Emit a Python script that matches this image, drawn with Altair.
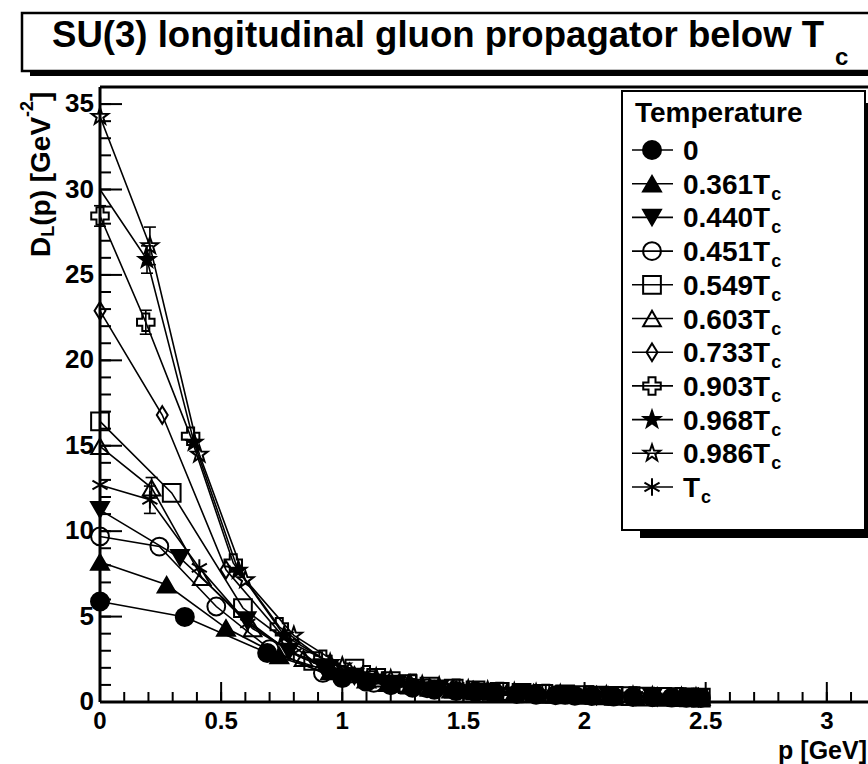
import altair as alt
import pandas as pd

FONT = "Liberation Sans"

# ---------------- data ----------------
series_names = ["0", "0.361Tc", "0.440Tc", "0.451Tc", "0.549Tc", "0.603Tc",
                "0.733Tc", "0.903Tc", "0.968Tc", "0.986Tc", "Tc"]
legend_main = ["0", "0.361T", "0.440T", "0.451T", "0.549T", "0.603T",
               "0.733T", "0.903T", "0.968T", "0.986T", "T"]
legend_sub = ["", "c", "c", "c", "c", "c", "c", "c", "c", "c", "c"]

p_T0 = [0.0, 0.35, 0.69, 1.00, 1.10, 1.20, 1.29, 1.38, 1.47, 1.55, 1.63, 1.72, 1.80,
        1.88, 1.96, 2.03, 2.12, 2.20, 2.28, 2.36, 2.42, 2.48]
D_T0 = [5.88, 4.98, 2.87, 1.40, 1.18, 0.98, 0.84, 0.72, 0.64, 0.58, 0.52, 0.47, 0.43,
        0.40, 0.37, 0.35, 0.32, 0.30, 0.28, 0.26, 0.25, 0.24]

p_T361 = [0.0, 0.275, 0.52, 0.74, 0.95, 1.10, 1.19, 1.28, 1.36, 1.45, 1.54, 1.62, 1.71,
          1.80, 1.88, 1.95, 2.04, 2.12, 2.21, 2.30, 2.38, 2.45]
D_T361 = [8.20, 6.86, 4.33, 2.72, 1.78, 1.30, 1.10, 0.95, 0.83, 0.72, 0.64, 0.58, 0.52,
          0.47, 0.43, 0.40, 0.37, 0.34, 0.31, 0.29, 0.27, 0.25]

p_T440 = [0.0, 0.33, 0.605, 0.78, 0.92, 1.05, 1.22, 1.40, 1.58, 1.76, 1.93, 2.10, 2.28, 2.47]
D_T440 = [11.25, 8.44, 4.80, 2.95, 2.05, 1.50, 1.08, 0.80, 0.62, 0.50, 0.42, 0.36, 0.31, 0.26]

p_T451 = [0.0, 0.245, 0.48, 0.70, 0.92, 1.13, 1.35, 1.55, 1.74, 1.92, 2.10, 2.28, 2.45]
D_T451 = [9.69, 9.10, 5.59, 3.10, 1.70, 1.12, 0.80, 0.62, 0.50, 0.42, 0.35, 0.30, 0.26]

p_T549 = [0.0, 0.296, 0.59, 0.88, 1.05, 1.14, 1.20, 1.27, 1.36, 1.46, 1.55, 1.65, 1.74,
          1.83, 1.92, 2.00, 2.06, 2.12, 2.19, 2.25, 2.32, 2.38, 2.43, 2.48]
D_T549 = [16.43, 12.24, 5.50, 2.40, 1.95, 1.42, 1.22, 1.05, 0.90, 0.78, 0.68, 0.60, 0.54,
          0.48, 0.44, 0.41, 0.38, 0.36, 0.34, 0.32, 0.30, 0.28, 0.27, 0.26]

p_T603 = [0.0, 0.213, 0.42, 0.63, 0.84, 1.05, 1.26, 1.47, 1.68, 1.89, 2.10, 2.30, 2.48]
D_T603 = [14.97, 12.54, 7.30, 4.30, 2.55, 1.60, 1.05, 0.75, 0.57, 0.45, 0.37, 0.31, 0.27]

p_T733 = [0.0, 0.257, 0.52, 0.77, 1.03, 1.28, 1.54, 1.79, 2.05, 2.30, 2.47]
D_T733 = [22.90, 16.80, 7.74, 3.60, 1.75, 1.05, 0.68, 0.50, 0.38, 0.31, 0.27]

p_T903 = [0.0, 0.189, 0.374, 0.55, 0.74, 0.92, 1.10, 1.29, 1.47, 1.65, 1.84, 2.02, 2.20, 2.39]
D_T903 = [28.45, 22.23, 15.55, 8.14, 4.40, 2.50, 1.60, 1.10, 0.80, 0.62, 0.50, 0.41, 0.35, 0.30]

p_T968 = [0.0, 0.194, 0.388, 0.57, 0.76, 0.95, 1.14, 1.33, 1.52, 1.71, 1.90, 2.09, 2.28, 2.46]
D_T968 = [30.0, 25.9, 15.2, 7.70, 3.90, 2.30, 1.45, 1.00, 0.75, 0.58, 0.47, 0.39, 0.33, 0.28]

p_T986 = [0.0, 0.206, 0.41, 0.60, 0.80, 1.00, 1.20, 1.40, 1.60, 1.80, 2.00, 2.20, 2.40]
D_T986 = [34.27, 26.70, 14.50, 7.15, 3.90, 2.10, 1.35, 0.92, 0.68, 0.53, 0.43, 0.36, 0.30]

p_Tc = [0.0, 0.206, 0.41, 0.61, 0.80, 0.98, 1.08, 1.17, 1.27, 1.36, 1.46, 1.55, 1.65,
        1.74, 1.84, 1.93, 2.02, 2.12, 2.21, 2.31, 2.40, 2.48]
D_Tc = [12.70, 11.84, 7.85, 4.60, 2.85, 1.90, 1.55, 1.30, 1.10, 0.95, 0.82, 0.72, 0.64,
        0.57, 0.51, 0.46, 0.42, 0.38, 0.35, 0.32, 0.30, 0.28]

series_p = [p_T0, p_T361, p_T440, p_T451, p_T549, p_T603, p_T733, p_T903, p_T968, p_T986, p_Tc]
series_D = [D_T0, D_T361, D_T440, D_T451, D_T549, D_T603, D_T733, D_T903, D_T968, D_T986, D_Tc]

# markers not drawn (line only)
hidden_series = ["0.968Tc"]
hidden_index = [0]

# error bars (series, point index, half-size)
err_series = ["0.986Tc", "0.968Tc", "0.903Tc", "Tc", "0.903Tc", "0.603Tc"]
err_index = [1, 1, 1, 1, 0, 1]
err_size = [1.1, 0.8, 0.7, 0.8, 0.6, 0.6]

# axis ticks
y_major_ticks = [0, 5, 10, 15, 20, 25, 30, 35]
y_tick_labels = ["0", "5", "10", "15", "20", "25", "30", "35"]
y_minor_ticks = list(range(0, 37))
x_major_ticks = [0, 0.5, 1.0, 1.5, 2.0, 2.5, 3.0]
x_tick_labels = ["0", "0.5", "1", "1.5", "2", "2.5", "3"]
x_minor_ticks = [round(0.1 * i, 1) for i in range(0, 32)]

# ---------------- styles ----------------
STAR = ("M0,-1 L0.235,-0.324 L0.951,-0.309 L0.380,0.124 L0.588,0.809 L0,0.4 "
        "L-0.588,0.809 L-0.380,0.124 L-0.951,-0.309 L-0.235,-0.324 Z")
DIAMOND = "M0,-1 L0.62,0 L0,1 L-0.62,0 Z"
ASTER = "M0,-1 L0,1 M-0.87,-0.5 L0.87,0.5 M-0.87,0.5 L0.87,-0.5"
shapes = ["circle", "triangle-up", "triangle-down", "circle", "square", "triangle-up",
          DIAMOND, "cross", STAR, STAR, ASTER]
fills = ["black", "black", "black", "transparent", "transparent", "transparent",
         "transparent", "transparent", "black", "transparent", "transparent"]
sizes = [324, 300, 300, 324, 380, 320, 230, 400, 380, 484, 400]

W, H = 768, 615
X_MAX = 3.17
Y_MAX = 36

# ---------------- tables ----------------
rows = []
for name, ps, ds in zip(series_names, series_p, series_D):
    for i, (p, d) in enumerate(zip(ps, ds)):
        hidden = any(hs == name and hi == i for hs, hi in zip(hidden_series, hidden_index))
        rows.append({"series": name, "p": p, "D": d, "i": i, "show": not hidden})
df = pd.DataFrame(rows)
pts_df = df[df["show"]]

err_rows = []
for s, i, e in zip(err_series, err_index, err_size):
    k = series_names.index(s)
    p, d = series_p[k][i], series_D[k][i]
    err_rows.append({"p": p, "lo": d - e, "hi": d + e})
err_df = pd.DataFrame(err_rows)

xs = alt.Scale(domain=[0, X_MAX], nice=False, zero=False)
ys = alt.Scale(domain=[0, Y_MAX], nice=False, zero=False)

shape_enc = alt.Shape("series:N", scale=alt.Scale(domain=series_names, range=shapes), legend=None)
fill_enc = alt.Fill("series:N", scale=alt.Scale(domain=series_names, range=fills), legend=None)
size_enc = alt.Size("series:N", scale=alt.Scale(domain=series_names, range=sizes), legend=None)

dummy = pd.DataFrame({"a": [0]})


def px(field):
    return alt.X(field, type="quantitative", scale=None, axis=None)


def py(field):
    return alt.Y(field, type="quantitative", scale=None, axis=None)


def txt(s, x, y, size, align="left", baseline="alphabetic", angle=None):
    kw = dict(text=s, fontSize=size, font=FONT, fontWeight="bold", align=align,
              baseline=baseline, color="black")
    if angle is not None:
        kw["angle"] = angle
    return alt.Chart(dummy).mark_text(**kw).encode(x=alt.value(x), y=alt.value(y))


def box(x1, x2, y1, y2, fill, stroke=None, sw=0):
    kw = dict(fill=fill)
    if stroke:
        kw["stroke"] = stroke
        kw["strokeWidth"] = sw
    return alt.Chart(dummy).mark_rect(**kw).encode(
        x=alt.value(x1), x2=alt.value(x2), y=alt.value(y1), y2=alt.value(y2))


layers = []

# frame
frame_df = pd.DataFrame({"x": [0, 0, 0], "x2": [0, 780, 780], "y": [0, H, 0], "y2": [H, H, 0]})
layers.append(alt.Chart(frame_df).mark_rule(color="black", strokeWidth=3).encode(
    x=px("x"), x2=alt.X2("x2"), y=py("y"), y2=alt.Y2("y2")))

# ticks
layers.append(alt.Chart(pd.DataFrame({"v": y_major_ticks})).mark_rule(color="black", strokeWidth=2).encode(
    y=alt.Y("v:Q", scale=ys, axis=None), x=alt.value(0), x2=alt.value(22)))
layers.append(alt.Chart(pd.DataFrame({"v": y_minor_ticks})).mark_rule(color="black", strokeWidth=2).encode(
    y=alt.Y("v:Q", scale=ys, axis=None), x=alt.value(0), x2=alt.value(11)))
layers.append(alt.Chart(pd.DataFrame({"v": x_major_ticks})).mark_rule(color="black", strokeWidth=2).encode(
    x=alt.X("v:Q", scale=xs, axis=None), y=alt.value(H), y2=alt.value(H - 20)))
layers.append(alt.Chart(pd.DataFrame({"v": x_minor_ticks})).mark_rule(color="black", strokeWidth=2).encode(
    x=alt.X("v:Q", scale=xs, axis=None), y=alt.value(H), y2=alt.value(H - 10)))

# tick labels
layers.append(alt.Chart(pd.DataFrame({"v": y_major_ticks, "t": y_tick_labels})).mark_text(
    font=FONT, fontWeight="bold", fontSize=26, align="right", baseline="middle", color="black").encode(
    y=alt.Y("v:Q", scale=ys, axis=None), x=alt.value(-6), text="t:N"))
layers.append(alt.Chart(pd.DataFrame({"v": x_major_ticks, "t": x_tick_labels})).mark_text(
    font=FONT, fontWeight="bold", fontSize=24, align="center", baseline="top", color="black").encode(
    x=alt.X("v:Q", scale=xs, axis=None), y=alt.value(H + 8), text="t:N"))

# data lines
layers.append(alt.Chart(df).mark_line(color="black", strokeWidth=1.6).encode(
    x=alt.X("p:Q", scale=xs, axis=None), y=alt.Y("D:Q", scale=ys, axis=None),
    detail="series:N", order="i:Q"))

# error bars
layers.append(alt.Chart(err_df).mark_rule(color="black", strokeWidth=1.6).encode(
    x=alt.X("p:Q", scale=xs, axis=None), y=alt.Y("lo:Q", scale=ys, axis=None), y2="hi:Q"))
for f in ["lo", "hi"]:
    layers.append(alt.Chart(err_df).mark_rule(color="black", strokeWidth=1.6, xOffset=-6, x2Offset=6).encode(
        x=alt.X("p:Q", scale=xs, axis=None), x2="p:Q", y=alt.Y(f + ":Q", scale=ys, axis=None)))

# data points
layers.append(alt.Chart(pts_df).mark_point(stroke="black", strokeWidth=2, opacity=1, fillOpacity=1).encode(
    x=alt.X("p:Q", scale=xs, axis=None), y=alt.Y("D:Q", scale=ys, axis=None),
    shape=shape_enc, fill=fill_enc, size=size_enc))

# ---------------- title box ----------------
layers.append(box(-70, 790, -16, -11, "black"))
layers.append(box(-78, 790, -74, -16, "white", "black", 2.5))
layers.append(txt("SU(3) longitudinal gluon propagator below T", -48, -40, 36.6))
layers.append(txt("c", 735, -22, 24))

# ---------------- axis titles ----------------
layers.append(txt("D", -50, 170, 28, angle=270))
layers.append(txt("L", -46, 149.8, 18, angle=270))
layers.append(txt("(p) [GeV", -50, 138.8, 28, angle=270))
layers.append(txt("-2", -67, 29.9, 18, angle=270))
layers.append(txt("]", -50, 13.9, 28, angle=270))
layers.append(txt("p [GeV]", 767, 672, 25, align="right"))

# ---------------- legend ----------------
LX1, LX2, LY1, LY2 = 522, 765, 4, 443
layers.append(box(540, 790, LY2, LY2 + 8, "black"))
layers.append(box(LX2, LX2 + 8, LY1 + 12, LY2 + 8, "black"))
layers.append(box(LX1, LX2, LY1, LY2, "white", "black", 2))
layers.append(txt("Temperature", 535, 35, 28))

char_w = {".": 0.278, "T": 0.611}


def text_width(s, size):
    return sum(char_w.get(ch, 0.556) for ch in s) * size


leg_rows = []
for k, name in enumerate(series_names):
    ly = 63 + 33.7 * k
    leg_rows.append({"series": name, "ly": ly, "lyb": ly + 10, "lys": ly + 16,
                     "main": legend_main[k], "sub": legend_sub[k],
                     "sx": 583 + text_width(legend_main[k], 28) + 1})
leg_df = pd.DataFrame(leg_rows)

layers.append(alt.Chart(leg_df).mark_rule(color="black", strokeWidth=1.6).encode(
    y=py("ly"), x=alt.value(532), x2=alt.value(573)))
layers.append(alt.Chart(leg_df).mark_point(stroke="black", strokeWidth=2, opacity=1, fillOpacity=1).encode(
    y=py("ly"), x=alt.value(552), shape=shape_enc, fill=fill_enc, size=size_enc))
layers.append(alt.Chart(leg_df).mark_text(font=FONT, fontWeight="bold", fontSize=28, align="left",
                                          baseline="alphabetic", color="black").encode(
    y=py("lyb"), x=alt.value(583), text="main:N"))
layers.append(alt.Chart(leg_df).mark_text(font=FONT, fontWeight="bold", fontSize=18, align="left",
                                          baseline="alphabetic", color="black").encode(
    y=py("lys"), x=px("sx"), text="sub:N"))

chart = alt.layer(*layers).resolve_scale(x="independent", y="independent").properties(
    width=W, height=H,
    padding={"left": 100, "top": 87, "right": 0, "bottom": 62},
    autosize=alt.AutoSizeParams(type="none"),
    background="white",
).configure_view(stroke=None)

chart.save("out.html", embed_options={"renderer": "svg", "actions": False})
